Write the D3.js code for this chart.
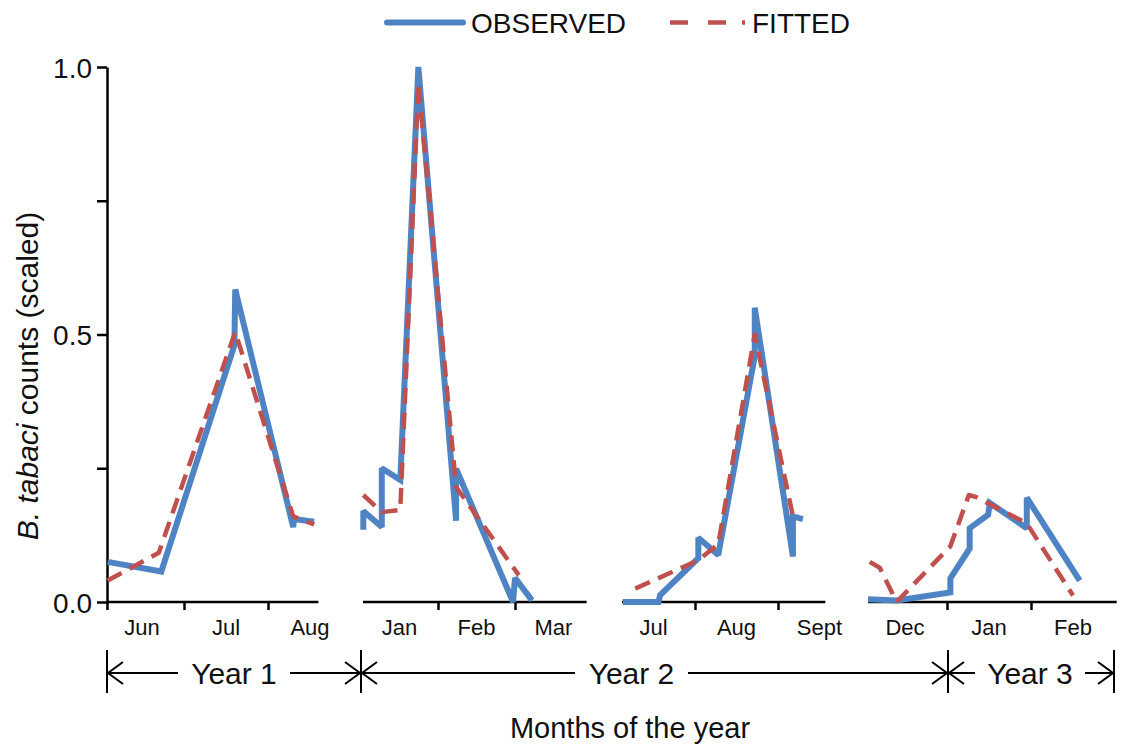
<!DOCTYPE html>
<html>
<head>
<meta charset="utf-8">
<script src="https://cdn.jsdelivr.net/npm/d3@7"></script>
<style>
  html, body { margin: 0; padding: 0; background: #fff; }
  svg { display: block; font-family: "Liberation Sans", Arial, sans-serif; }
</style>
</head>
<body>
<div id="chart"></div>
<script>
// Data: x = month position inside each panel (0..3), y = scaled count
var months1 = ["Jun", "Jul", "Aug"];
var months2 = ["Jan", "Feb", "Mar"];
var months3 = ["Jul", "Aug", "Sept"];
var months4 = ["Dec", "Jan", "Feb"];

var observed1 = [[0.09, 0.075], [0.73, 0.057], [1.60, 0.48], [1.61, 0.584], [2.30, 0.14], [2.31, 0.155], [2.55, 0.15]];
var fitted1 = [[0.09, 0.04], [0.70, 0.092], [1.61, 0.505], [2.30, 0.16], [2.55, 0.145]];

var observed2 = [[0.03, 0.135], [0.03, 0.17], [0.27, 0.14], [0.27, 0.25], [0.51, 0.228], [0.745, 1.0], [1.235, 0.152], [1.235, 0.249], [1.975, 0.0], [2.0, 0.045], [2.22, 0.003]];
var fitted2 = [[0.03, 0.2], [0.27, 0.168], [0.51, 0.172], [0.745, 0.97], [1.235, 0.215], [2.05, 0.05]];

var observed3 = [[0.13, 0.0], [0.56, 0.0], [0.58, 0.013], [1.04, 0.082], [1.04, 0.12], [1.28, 0.088], [1.72, 0.46], [1.72, 0.55], [2.18, 0.085], [2.18, 0.16], [2.30, 0.155]];
var fitted3 = [[0.28, 0.025], [1.04, 0.078], [1.28, 0.108], [1.72, 0.5], [2.18, 0.16]];

var observed4 = [[0.06, 0.005], [0.4, 0.003], [1.04, 0.018], [1.04, 0.044], [1.27, 0.1], [1.27, 0.138], [1.49, 0.163], [1.51, 0.185], [1.95, 0.138], [1.95, 0.195], [2.58, 0.04]];
var fitted4 = [[0.08, 0.075], [0.2, 0.064], [0.4, 0.0], [1.04, 0.104], [1.26, 0.2], [1.35, 0.196], [1.95, 0.147], [2.5, 0.012]];

var yTicks = [0, 0.25, 0.5, 0.75, 1.0];
var yearLabels = ["Year 1", "Year 2", "Year 3"];
var legendLabels = ["OBSERVED", "FITTED"];

// Layout
var W = 1131, H = 746;
var blue = "#4f84c4", red = "#c0504d";

var panels = [
  { months: months1, obs: observed1, fit: fitted1, x0: 100, w: 84, a: 0.083, b: 2.6 },
  { months: months2, obs: observed2, fit: fitted2, x0: 361, w: 77, a: 0.026, b: 2.93 },
  { months: months3, obs: observed3, fit: fitted3, x0: 612, w: 83, a: 0.12, b: 2.57 },
  { months: months4, obs: observed4, fit: fitted4, x0: 863, w: 84, a: 0.06, b: 3.02 }
];

var svg = d3.select("#chart").append("svg").attr("width", W).attr("height", H);

var y = d3.scaleLinear().domain([0, 1]).range([602, 67]);

// Y axis
svg.append("g")
  .attr("transform", "translate(107,0)")
  .call(d3.axisLeft(y).tickValues(yTicks).tickSize(10).tickSizeOuter(0)
    .tickFormat(function (d) { return d % 0.5 === 0 ? d.toFixed(1) : ""; }))
  .call(function (g) {
    g.select(".domain").attr("stroke", "#000").attr("stroke-width", 2.5);
    g.selectAll(".tick line").attr("stroke", "#000").attr("stroke-width", 2.5);
    g.selectAll("text").attr("font-size", 28).attr("fill", "#111")
      .attr("x", -15).attr("dy", "0.36em")
      .attr("font-family", "'Liberation Sans', Arial, sans-serif");
  });

svg.append("text")
  .attr("transform", "translate(38,376) rotate(-90)")
  .attr("text-anchor", "middle")
  .attr("font-size", 30)
  .attr("fill", "#111")
  .call(function (t) {
    t.append("tspan").attr("font-style", "italic").text("B. tabaci");
    t.append("tspan").text(" counts (scaled)");
  });

var line = d3.line();

panels.forEach(function (p, i) {
  var x = d3.scaleLinear().domain([0, 3]).range([p.x0, p.x0 + 3 * p.w]);
  var g = svg.append("g");

  // axis line + month boundary ticks
  g.append("line")
    .attr("x1", x(p.a)).attr("x2", x(p.b))
    .attr("y1", y(0)).attr("y2", y(0))
    .attr("stroke", "#000").attr("stroke-width", 2.5);

  var ticks = i === 0 ? [p.a, 1, 2] : [1, 2];
  g.append("g")
    .attr("transform", "translate(0," + y(0) + ")")
    .call(d3.axisBottom(x).tickValues(ticks).tickSize(8).tickFormat(""))
    .call(function (a) {
      a.select(".domain").remove();
      a.selectAll(".tick line").attr("stroke", "#000").attr("stroke-width", 2.5);
    });

  g.selectAll(".month")
    .data(p.months)
    .join("text")
    .attr("x", function (d, j) { return x(j + 0.5); })
    .attr("y", 635)
    .attr("text-anchor", "middle")
    .attr("font-size", 22)
    .attr("fill", "#111")
    .text(function (d) { return d; });

  line.x(function (d) { return x(d[0]); }).y(function (d) { return y(d[1]); });

  g.append("path")
    .attr("d", line(p.obs))
    .attr("fill", "none")
    .attr("stroke", blue)
    .attr("stroke-width", 6)
    .attr("stroke-linejoin", "miter")
    .attr("stroke-miterlimit", 2);

  g.append("path")
    .attr("d", line(p.fit))
    .attr("fill", "none")
    .attr("stroke", red)
    .attr("stroke-width", 4.5)
    .attr("stroke-dasharray", "16,9")
    .attr("stroke-linejoin", "round");
});

// Legend
var lg = svg.append("g");
lg.append("line").attr("x1", 387).attr("x2", 463).attr("y1", 22.5).attr("y2", 22.5)
  .attr("stroke", blue).attr("stroke-width", 6).attr("stroke-linecap", "round");
lg.append("text").attr("x", 471).attr("y", 33).attr("font-size", 28).attr("fill", "#111").text(legendLabels[0]);
lg.append("line").attr("x1", 670).attr("x2", 746).attr("y1", 22.5).attr("y2", 22.5)
  .attr("stroke", red).attr("stroke-width", 4.5)
  .attr("stroke-dasharray", "18,20,18,16,3,100");
lg.append("text").attr("x", 752).attr("y", 33).attr("font-size", 28).attr("fill", "#111").text(legendLabels[1]);

// Year brackets
var bounds = [107, 361, 948, 1114];
var yearTextGap = [[178, 290], [575, 688], [975, 1085]];
var ay = 673;
var yg = svg.append("g").attr("stroke", "#000").attr("stroke-width", 2).attr("fill", "none");

bounds.forEach(function (bx) {
  yg.append("line").attr("x1", bx).attr("x2", bx).attr("y1", 650).attr("y2", 693);
});

function arrowHead(xTip, dir) {
  yg.append("path")
    .attr("d", "M" + (xTip + dir * 15) + "," + (ay - 11) + "L" + xTip + "," + ay + "L" + (xTip + dir * 15) + "," + (ay + 11));
}

yearLabels.forEach(function (lab, i) {
  var xl = bounds[i] + 1, xr = bounds[i + 1] - 1;
  yg.append("line").attr("x1", xl).attr("x2", yearTextGap[i][0]).attr("y1", ay).attr("y2", ay);
  yg.append("line").attr("x1", yearTextGap[i][1]).attr("x2", xr).attr("y1", ay).attr("y2", ay);
  arrowHead(xl, 1);
  arrowHead(xr, -1);
  svg.append("text")
    .attr("x", (yearTextGap[i][0] + yearTextGap[i][1]) / 2)
    .attr("y", ay + 11)
    .attr("text-anchor", "middle")
    .attr("font-size", 30)
    .attr("fill", "#111")
    .text(lab);
});

svg.append("text")
  .attr("x", 630).attr("y", 738)
  .attr("text-anchor", "middle")
  .attr("font-size", 29)
  .attr("fill", "#111")
  .text("Months of the year");
</script>
</body>
</html>
